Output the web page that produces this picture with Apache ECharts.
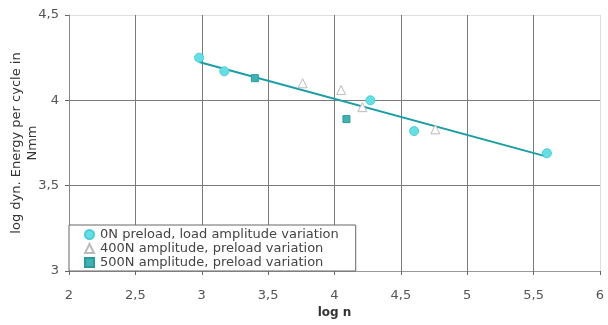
<!DOCTYPE html>
<html>
<head>
<meta charset="utf-8">
<script src="https://cdn.jsdelivr.net/npm/echarts@6/dist/echarts.min.js"></script>
<style>
  html, body { margin: 0; padding: 0; background: #fff; }
  #chart { width: 608px; height: 325px; }
</style>
</head>
<body>
<div id="chart"></div>
<script>
const SERIES_NAMES = [
  '0N preload, load amplitude variation',
  '400N amplitude, preload variation',
  '500N amplitude, preload variation',
]
// [log n, log energy]
const preload0 = [[2.98, 4.25], [3.17, 4.17], [4.27, 4.0], [4.6, 3.82], [5.6, 3.69]]
const amp400 = [[3.76, 4.1], [4.05, 4.06], [4.21, 3.96], [4.76, 3.83]]
const amp500 = [[3.4, 4.13], [4.09, 3.89]]
const trend = [[2.98, 4.225], [5.6, 3.67]]

const X_TICKS = [2, 2.5, 3, 3.5, 4, 4.5, 5, 5.5, 6]
const Y_TICKS = [3, 3.5, 4, 4.5]

const FONT = 'DejaVu Sans, sans-serif'
const fmt = v => String(v).replace('.', ',')
const gridDark = '#7a7a7a', gridLight = '#dedede'

const chart = echarts.init(document.getElementById('chart'))
chart.setOption({
  animation: false,
  backgroundColor: '#fff',
  grid: { left: 69, right: 8, top: 15, bottom: 54, containLabel: false, outerBoundsMode: 'none' },
  xAxis: {
    type: 'value', min: X_TICKS[0], max: X_TICKS[X_TICKS.length - 1], interval: 0.5,
    name: 'log n', nameLocation: 'middle', nameGap: 36, nameMoveOverlap: false,
    nameTextStyle: { fontFamily: FONT, fontSize: 12, fontWeight: 'bold', color: '#333' },
    axisLine: { onZero: false, lineStyle: { color: '#999' } },
    axisTick: { length: 4, lineStyle: { color: '#666' } },
    axisLabel: { formatter: fmt, color: '#555', fontFamily: FONT, fontSize: 13, margin: 18 },
    splitLine: { lineStyle: { width: 1, color: X_TICKS.map((t, i) => i === X_TICKS.length - 1 ? gridLight : gridDark) } },
  },
  yAxis: {
    type: 'value', min: Y_TICKS[0], max: Y_TICKS[Y_TICKS.length - 1], interval: 0.5,
    name: 'log dyn. Energy per cycle in\nNmm', nameLocation: 'middle', nameGap: 28, nameMoveOverlap: false,
    nameTextStyle: { fontFamily: FONT, fontSize: 13, color: '#333', lineHeight: 16 },
    axisLine: { onZero: false, lineStyle: { color: '#888' } },
    axisTick: { length: 4, lineStyle: { color: '#666' } },
    axisLabel: { formatter: fmt, color: '#555', fontFamily: FONT, fontSize: 13, margin: 10 },
    splitLine: { lineStyle: { width: 1, color: Y_TICKS.map((t, i) => i === Y_TICKS.length - 1 ? gridLight : gridDark) } },
  },
  legend: {
    orient: 'vertical', left: 69, top: 225,
    backgroundColor: '#fff', borderColor: '#666', borderWidth: 1,
    padding: [3, 17, 2, 15], itemGap: 1, itemWidth: 9, itemHeight: 9,
    textStyle: { fontFamily: FONT, fontSize: 13, color: '#444', lineHeight: 12, padding: [0, 0, 0, 1] },
    data: SERIES_NAMES.map(name => ({ name })),
  },
  series: [
    {
      name: 'trend', type: 'line', data: trend, symbol: 'none',
      lineStyle: { color: '#1a9ea6', width: 2 }, z: 1,
    },
    {
      name: SERIES_NAMES[0], type: 'scatter', data: preload0, symbol: 'circle', symbolSize: 9,
      itemStyle: { color: '#62e0e6', borderColor: '#48cfd6', borderWidth: 1, opacity: 1 }, z: 3,
    },
    {
      name: SERIES_NAMES[1], type: 'scatter', data: amp400, symbol: 'triangle', symbolSize: 9,
      itemStyle: { color: '#fff', borderColor: '#bbbbbb', borderWidth: 1, opacity: 1 }, z: 3,
    },
    {
      name: SERIES_NAMES[2], type: 'scatter', data: amp500, symbol: 'rect', symbolSize: 7,
      itemStyle: { color: '#3fb3b3', borderColor: '#2a9a9a', borderWidth: 1, opacity: 1 }, z: 3,
    },
  ],
})
</script>
</body>
</html>
